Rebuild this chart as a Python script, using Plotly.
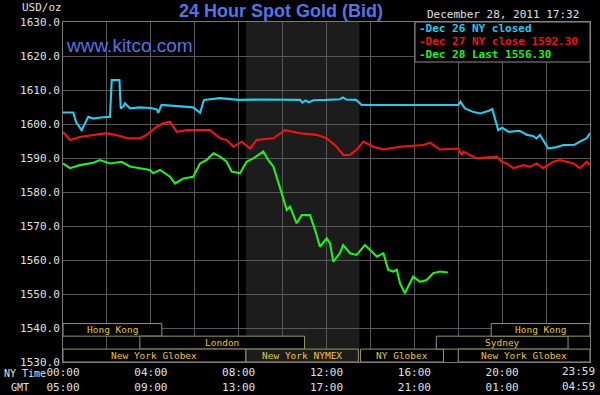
import plotly.graph_objects as go

# ---------------- data (NY time in hours, price USD/oz) ----------------
hours_dec26 = [0, 0.47, 0.6, 0.85, 1.15, 1.38, 1.7, 2.14, 2.22, 2.57, 2.63, 2.75, 2.82, 3.05, 3.5, 4.0,
               4.27, 4.34, 4.49, 5.0, 5.5, 5.93, 6.24, 6.42, 7.15, 8.0, 9.0, 10.0, 10.8, 10.9, 11.05,
               11.2, 11.4, 12.0, 12.6, 12.75, 12.9, 13.35, 13.6, 17.17, 18.0, 18.1, 18.3, 18.7, 19.0,
               19.4, 19.55, 19.82, 20.0, 20.3, 20.8, 21.13, 21.4, 21.57, 21.72, 22.1, 22.48, 22.8,
               23.3, 23.54, 23.85, 24.0]
price_dec26 = [1603.4, 1603.4, 1600.5, 1598.2, 1602.1, 1601.6, 1601.9, 1602.1, 1612.9, 1612.9, 1604.6,
               1605.2, 1606.1, 1604.6, 1604.9, 1604.7, 1604.3, 1603.3, 1605.6, 1605.4, 1605.2, 1604.9,
               1603.3, 1607.1, 1607.6, 1607.1, 1607.2, 1607.2, 1607.1, 1606.3, 1606.9, 1606.4, 1607.0,
               1607.1, 1607.3, 1607.8, 1607.2, 1607.1, 1605.6, 1605.6, 1605.6, 1606.6, 1604.6, 1603.5,
               1603.1, 1603.9, 1604.4, 1598.2, 1598.9, 1597.7, 1598.0, 1596.8, 1596.5, 1595.8, 1596.8,
               1592.8, 1593.2, 1593.8, 1593.9, 1594.8, 1595.8, 1597.3]

hours_dec27 = [0, 0.32, 0.77, 1.38, 1.99, 2.6, 2.9, 3.5, 3.81, 4.27, 4.57, 4.87, 5.18, 5.63, 6.69, 7.15,
               7.45, 7.76, 8.14, 8.52, 8.82, 9.58, 10.11, 10.79, 11.55, 12.0, 12.46, 12.77, 13.07,
               13.37, 13.68, 14.13, 14.59, 15.35, 16.41, 16.71, 17.17, 18.0, 18.15, 18.23, 18.84,
               19.75, 19.98, 20.2, 20.51, 20.96, 21.27, 21.57, 21.87, 22.33, 22.63, 23.24, 23.54,
               23.85, 24.0]
price_dec27 = [1597.7, 1595.3, 1596.2, 1596.8, 1597.3, 1596.5, 1595.8, 1595.8, 1596.8, 1599.2, 1600.2,
               1600.7, 1597.7, 1598.2, 1598.2, 1595.8, 1595.3, 1593.3, 1594.8, 1592.8, 1595.3, 1595.8,
               1598.2, 1597.3, 1596.8, 1595.8, 1593.3, 1590.9, 1590.9, 1592.4, 1594.8, 1593.3, 1592.5,
               1593.3, 1593.8, 1594.5, 1592.5, 1592.8, 1590.9, 1591.9, 1589.9, 1590.4, 1588.9, 1588.4,
               1587.0, 1587.9, 1587.4, 1588.4, 1587.0, 1588.9, 1589.4, 1588.4, 1587.0, 1588.9, 1587.9]

hours_dec28 = [0, 0.32, 0.77, 1.38, 1.68, 2.14, 2.67, 3.05, 3.5, 3.96, 4.11, 4.42, 4.87, 5.1, 5.48,
               5.93, 6.24, 6.54, 6.85, 7.15, 7.45, 7.68, 8.06, 8.36, 8.67, 8.97, 9.12, 9.35, 9.58,
               9.96, 10.19, 10.34, 10.64, 10.87, 11.25, 11.48, 11.7, 12.01, 12.16, 12.31, 12.61,
               12.76, 13.07, 13.37, 13.75, 14.06, 14.29, 14.59, 14.81, 15.04, 15.2, 15.35, 15.57,
               15.72, 15.95, 16.26, 16.56, 16.86, 17.17, 17.53]
price_dec28 = [1588.4, 1587.0, 1587.9, 1588.6, 1589.4, 1588.4, 1588.9, 1587.5, 1587.0, 1586.5, 1585.5,
               1586.5, 1584.5, 1582.5, 1584.0, 1584.5, 1588.4, 1589.4, 1591.4, 1590.4, 1588.9, 1586.0,
               1585.5, 1588.9, 1589.9, 1591.4, 1591.9, 1589.4, 1587.5, 1579.6, 1574.7, 1575.7, 1570.8,
               1573.2, 1573.2, 1568.8, 1563.9, 1566.4, 1564.9, 1559.5, 1562.0, 1564.4, 1562.0, 1561.5,
               1564.4, 1562.5, 1561.0, 1562.0, 1557.1, 1556.6, 1557.1, 1553.1, 1550.2, 1552.2, 1555.1,
               1553.6, 1554.1, 1556.1, 1556.6, 1556.3]

series_names = ["-Dec 26 NY closed", "-Dec 27 NY close 1592.30", "-Dec 28 Last 1556.30"]

y_ticks = [1530, 1540, 1550, 1560, 1570, 1580, 1590, 1600, 1610, 1620, 1630]
x_ticks = [0, 2, 4, 6, 8, 10, 12, 14, 16, 18, 20, 22]
ny_time_labels = ["00:00", "", "04:00", "", "08:00", "", "12:00", "", "16:00", "", "20:00", ""]
gmt_labels = ["05:00", "", "09:00", "", "13:00", "", "17:00", "", "21:00", "", "01:00", ""]
end_label_ny = "23:59"
end_label_gmt = "04:59"

nymex_open = [8.33, 13.5]

session_names = ["Hong Kong", "London", "New York Globex", "New York NYMEX", "NY Globex",
                 "Sydney", "Hong Kong", "New York Globex"]
session_start = [0, 3.5, 0, 8.33, 13.55, 17.0, 19.5, 18.0]
session_end = [4.5, 11.0, 8.33, 13.45, 17.33, 23.0, 24.0, 24.0]
session_row = [2, 1, 0, 0, 0, 1, 2, 0]
row_edges = [1530.0, 1533.8, 1537.6, 1541.3]

# ---------------- style ----------------
colors = ["#2ec8ec", "#ee1515", "#22ee22"]
MONO = "DejaVu Sans Mono"
SANS = "Liberation Sans, Arial"
L, R, T, B = 63, 590, 22, 362


def pxx(x):
    return (x - L) / (R - L)


def pxy(y):
    return (B - y) / (B - T)


fig = go.Figure()
for xs, ys, c, n in zip([hours_dec26, hours_dec27, hours_dec28],
                        [price_dec26, price_dec27, price_dec28], colors, series_names):
    fig.add_trace(go.Scatter(x=xs, y=ys, mode="lines", name=n,
                             line=dict(color=c, width=2.1), hoverinfo="skip"))

shapes = []
# NYMEX shaded open hours
shapes.append(dict(type="rect", xref="x", yref="paper", x0=nymex_open[0], x1=nymex_open[1],
                   y0=0, y1=1, fillcolor="#1c1c1c", line=dict(width=0), layer="below"))

annotations = []
for name, s, e, r in zip(session_names, session_start, session_end, session_row):
    inside = s >= nymex_open[0] and e <= nymex_open[1] + 0.01
    shapes.append(dict(type="rect", xref="x", yref="y", x0=s, x1=e,
                       y0=row_edges[r], y1=row_edges[r + 1],
                       fillcolor="#1c1c1c" if inside else "#000000",
                       line=dict(color="#9a9668", width=1), layer="above"))
    annotations.append(dict(x=(s + e) / 2, y=(row_edges[r] + row_edges[r + 1]) / 2,
                            xref="x", yref="y", text=name, showarrow=False,
                            font=dict(family=MONO, size=9.5, color="#e8c44a")))

# legend box
shapes.append(dict(type="rect", xref="paper", yref="paper", x0=pxx(415), x1=1,
                   y0=pxy(62), y1=1, fillcolor="#000000",
                   line=dict(color="#8a8a8a", width=1), layer="above"))
for i, (n, c) in enumerate(zip(series_names, colors)):
    annotations.append(dict(x=pxx(417), y=pxy(28 + 13 * i), xref="paper", yref="paper",
                            text="<b>" + n + "</b>", showarrow=False, xanchor="left",
                            yanchor="middle", font=dict(family=MONO, size=11, color=c)))

annotations += [
    dict(x=pxx(281), y=pxy(11), xref="paper", yref="paper", text="<b>24 Hour Spot Gold (Bid)</b>",
         showarrow=False, xanchor="center", yanchor="middle",
         font=dict(family=SANS, size=18, color="#5574e6")),
    dict(x=pxx(64), y=pxy(46), xref="paper", yref="paper", text="www.kitco.com",
         showarrow=False, xanchor="left", yanchor="middle",
         font=dict(family=SANS, size=19, color="#5574e6")),
    dict(x=pxx(581), y=pxy(14), xref="paper", yref="paper", text="December 28, 2011 17:32",
         showarrow=False, xanchor="right", yanchor="middle",
         font=dict(family=MONO, size=11, color="#e0e0e0")),
    dict(x=pxx(20), y=pxy(8), xref="paper", yref="paper", text="USD/oz",
         showarrow=False, xanchor="left", yanchor="middle",
         font=dict(family=MONO, size=11, color="#e0e0e0")),
    dict(x=pxx(2), y=pxy(373), xref="paper", yref="paper", text="NY Time",
         showarrow=False, xanchor="left", yanchor="middle",
         font=dict(family=MONO, size=10, color="#e0e0e0")),
    dict(x=pxx(9), y=pxy(387), xref="paper", yref="paper", text="GMT",
         showarrow=False, xanchor="left", yanchor="middle",
         font=dict(family=MONO, size=10, color="#e0e0e0")),
    dict(x=pxx(597), y=pxy(372), xref="paper", yref="paper", text=end_label_ny,
         showarrow=False, xanchor="right", yanchor="middle",
         font=dict(family=MONO, size=11, color="#e0e0e0")),
    dict(x=pxx(597), y=pxy(386), xref="paper", yref="paper", text=end_label_gmt,
         showarrow=False, xanchor="right", yanchor="middle",
         font=dict(family=MONO, size=11, color="#e0e0e0")),
]

fig.update_layout(
    width=600, height=395,
    margin=dict(l=L, r=600 - R, t=T, b=395 - B, autoexpand=False),
    paper_bgcolor="#000000", plot_bgcolor="#000000",
    showlegend=False, hovermode=False,
    shapes=shapes, annotations=annotations,
    xaxis=dict(range=[0, 24], tickvals=x_ticks, automargin=False,
               ticktext=[(a + "<br>" + b) if a else "" for a, b in zip(ny_time_labels, gmt_labels)],
               showgrid=True, gridcolor="#575757", gridwidth=1, zeroline=False,
               showline=True, linecolor="#7a7a7a", linewidth=1, mirror=True, ticks="",
               tickfont=dict(family=MONO, size=11, color="#e0e0e0")),
    yaxis=dict(range=[1530, 1630], tickvals=y_ticks, automargin=False,
               ticktext=[f"{v:.1f}" for v in y_ticks],
               showgrid=True, gridcolor="#575757", gridwidth=1, zeroline=False,
               showline=True, linecolor="#7a7a7a", linewidth=1, mirror=True, ticks="",
               tickfont=dict(family=MONO, size=11, color="#e0e0e0")),
)

fig.write_html("out.html", config={"displayModeBar": False, "staticPlot": True},
               post_script="document.body.style.margin='0';document.body.style.background='#000';")
